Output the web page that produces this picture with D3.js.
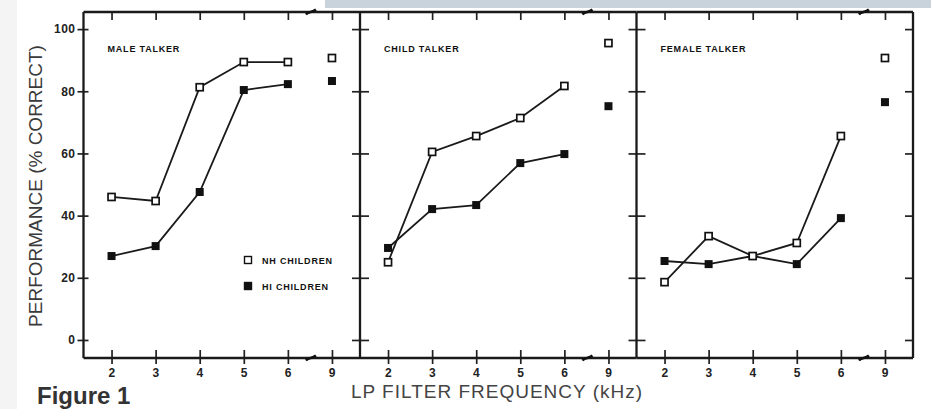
<!DOCTYPE html>
<html>
<head>
<meta charset="utf-8">
<script src="https://cdn.jsdelivr.net/npm/d3@7"></script>
<style>
  body { margin: 0; background: #fff; }
  svg { display: block; }
  .tick text { font-family: "Liberation Sans", Arial, sans-serif; font-weight: bold; font-size: 12px; letter-spacing: 0.5px; fill: #222; }
  .small { font-family: "Liberation Sans", Arial, sans-serif; font-weight: bold; font-size: 9px; letter-spacing: 0.8px; fill: #111; }
</style>
</head>
<body>
<div id="chart"></div>
<script>
// categories / tick labels
var freqs = ["2", "3", "4", "5", "6", "9"];
var talkers = ["MALE TALKER", "CHILD TALKER", "FEMALE TALKER"];
var yTicks = [0, 20, 40, 60, 80, 100];

// % correct (last value = 9 kHz, not joined)
var nhMale   = [46, 44.7, 81.3, 89.4, 89.4, 90.7];
var hiMale   = [27, 30.2, 47.6, 80.4, 82.3, 83.3];
var nhChild  = [25, 60.5, 65.6, 71.4, 81.7, 95.5];
var hiChild  = [29.6, 42.1, 43.4, 56.9, 59.8, 75.2];
var nhFemale = [18.6, 33.4, 27, 31.2, 65.6, 90.7];
var hiFemale = [25.4, 24.4, 27, 24.4, 39.2, 76.5];

var nhAll = [nhMale, nhChild, nhFemale];
var hiAll = [hiMale, hiChild, hiFemale];

var width = 931, height = 409;
var plotTop = 12, plotBottom = 358;
var left = 83.5, panelW = 276.5;

var svg = d3.select("#chart").append("svg")
    .attr("width", width)
    .attr("height", height);

// page background bits
svg.append("rect").attr("x", 325).attr("y", 0).attr("width", width - 325).attr("height", 8).attr("fill", "#c9d3dc");
svg.append("rect").attr("x", 0).attr("y", 0).attr("width", 17).attr("height", height).attr("fill", "#f4f4f4");

var y = d3.scaleLinear().domain([-5.8, 105.5]).range([plotBottom, plotTop]);

var x = d3.scalePoint()
    .domain(freqs)
    .range([0, panelW])
    .padding(0.636);

var line = d3.line()
    .x(function(d, i) { return x(freqs[i]); })
    .y(function(d) { return y(d); });

talkers.forEach(function(name, p) {
    var g = svg.append("g").attr("transform", "translate(" + (left + p * panelW) + ",0)");

    // bottom axis, ticks crossing the line
    var xb = g.append("g")
        .attr("transform", "translate(0," + plotBottom + ")")
        .call(d3.axisBottom(x).tickSize(6).tickPadding(4));
    xb.select(".domain").remove();
    xb.selectAll(".tick line").attr("y1", -8).attr("stroke", "#222").attr("stroke-width", 1.7);

    // top axis, inside ticks only
    var xt = g.append("g")
        .attr("transform", "translate(0," + plotTop + ")")
        .call(d3.axisBottom(x).tickSize(8).tickFormat(""));
    xt.select(".domain").remove();
    xt.selectAll(".tick line").attr("stroke", "#222").attr("stroke-width", 1.7);

    // left axis of each panel
    var yl = g.append("g")
        .call(d3.axisLeft(y).tickValues(yTicks).tickSize(p === 0 ? 6 : 8).tickPadding(2)
            .tickFormat(p === 0 ? d3.format("d") : ""));
    yl.select(".domain").remove();
    yl.selectAll(".tick line").attr("x1", p === 0 ? 5 : 9).attr("stroke", "#222").attr("stroke-width", 1.7);

    // frame
    g.append("path")
        .attr("d", "M0," + plotTop + "H" + panelW + "M0," + plotBottom + "H" + panelW + "M0," + plotTop + "V" + plotBottom)
        .attr("fill", "none").attr("stroke", "#1a1a1a").attr("stroke-width", 2.3);
    if (p === talkers.length - 1) {
        g.append("line").attr("x1", panelW).attr("x2", panelW).attr("y1", plotTop).attr("y2", plotBottom)
            .attr("stroke", "#1a1a1a").attr("stroke-width", 2.3);
        var yr = g.append("g").attr("transform", "translate(" + panelW + ",0)")
            .call(d3.axisLeft(y).tickValues(yTicks).tickSize(8).tickFormat(""));
        yr.select(".domain").remove();
        yr.selectAll(".tick line").attr("stroke", "#222").attr("stroke-width", 1.7);
    }

    // axis break marks between 6 and 9
    var bx = (x("6") + x("9")) / 2 + 1;
    [plotTop, plotBottom].forEach(function(yy) {
        g.append("path")
            .attr("d", "M" + (bx - 5) + "," + (yy + 2.5) + "C" + (bx - 2) + "," + (yy - 1) + " " + (bx + 1) + "," + (yy + 1) + " " + (bx + 5) + "," + (yy - 2.5))
            .attr("fill", "none").attr("stroke", "#111").attr("stroke-width", 2.6);
    });

    g.append("text").attr("class", "small")
        .attr("x", 24).attr("y", 52)
        .text(name);

    // lines (2-6 kHz only)
    [hiAll[p], nhAll[p]].forEach(function(vals) {
        g.append("path")
            .datum(vals.slice(0, 5))
            .attr("d", line)
            .attr("fill", "none").attr("stroke", "#1a1a1a").attr("stroke-width", 1.8);
    });

    var s = 8;
    g.selectAll(".hi").data(hiAll[p]).enter().append("rect")
        .attr("x", function(d, i) { return x(freqs[i]) - s / 2; })
        .attr("y", function(d) { return y(d) - s / 2; })
        .attr("width", s).attr("height", s)
        .attr("fill", "#111");
    g.selectAll(".nh").data(nhAll[p]).enter().append("rect")
        .attr("x", function(d, i) { return x(freqs[i]) - s / 2 + 0.5; })
        .attr("y", function(d) { return y(d) - s / 2 + 0.5; })
        .attr("width", s - 1).attr("height", s - 1)
        .attr("fill", "#fff").attr("stroke", "#111").attr("stroke-width", 1.7);
});

// legend in first panel
var legend = [{ label: "NH CHILDREN", fill: "#fff" }, { label: "HI CHILDREN", fill: "#111" }];
legend.forEach(function(l, i) {
    var ly = 260 + i * 26;
    svg.append("rect").attr("x", 244.5).attr("y", ly - 3.5).attr("width", 7).attr("height", 7)
        .attr("fill", l.fill).attr("stroke", "#111").attr("stroke-width", 1.4);
    svg.append("text").attr("class", "small").attr("x", 262).attr("y", ly + 3.5).text(l.label);
});

// axis titles
svg.append("text")
    .attr("transform", "translate(42,186)rotate(-90)")
    .attr("text-anchor", "middle")
    .style("font-family", "Liberation Sans, Arial, sans-serif")
    .style("font-size", "19px")
    .attr("fill", "#3a3a3a")
    .text("PERFORMANCE (% CORRECT)");

svg.append("text")
    .attr("x", 497).attr("y", 398)
    .attr("text-anchor", "middle")
    .style("font-family", "Liberation Sans, Arial, sans-serif")
    .style("font-size", "19px")
    .style("letter-spacing", "1px")
    .attr("fill", "#444")
    .text("LP FILTER FREQUENCY (kHz)");

svg.append("text")
    .attr("x", 37).attr("y", 404)
    .style("font-family", "Liberation Sans, Arial, sans-serif")
    .style("font-size", "24px")
    .style("font-weight", "bold")
    .attr("fill", "#333")
    .text("Figure 1");
</script>
</body>
</html>
